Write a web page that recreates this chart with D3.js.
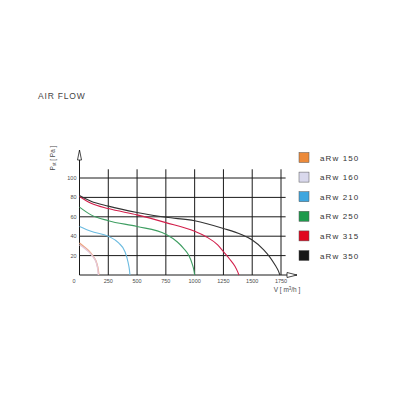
<!DOCTYPE html>
<html><head><meta charset="utf-8">
<script src="https://cdn.jsdelivr.net/npm/d3@7/dist/d3.min.js"></script>
<style>html,body{margin:0;padding:0;background:#fff;}svg{display:block;font-family:Arial,"Liberation Sans",sans-serif;}</style>
</head><body>
<svg id="c" width="400" height="400"></svg>
<script>
const title = "AIR FLOW";
const seriesNames = ["aRw 150","aRw 160","aRw 210","aRw 250","aRw 315","aRw 350"];
const swatchColors = ["#ec8a3a","#d9d8ec","#3ea6df","#1e9a4c","#e0061f","#151515"];
const lineColors = ["#eea27a","#e4c8d8","#6bbbe0","#3f9e62","#d21f4b","#333333"];
const xTicks = [0,250,500,750,1000,1250,1500,1750];
const yTicks = [0,20,40,60,80,100];
const s150 = [[0,33],[40,29],[80,25],[120,19],[150,12],[163,5],[168,0]];
const s160 = [[0,31],[40,28],[80,24],[120,18.5],[148,12],[160,5],[164,0]];
const s210 = [[0,50],[100,45],[250,40],[340,33],[395,24],[422,13],[434,5],[438,0]];
const s250 = [[0,70],[100,62],[250,56],[500,50],[750,42],[850,34],[900,28],[950,20],[980,11],[995,4],[1000,0]];
const s315 = [[0,81],[100,74],[250,68.5],[500,62],[750,54],[1000,45],[1100,39.5],[1200,31],[1250,24],[1300,17],[1350,9],[1375,3],[1385,0]];
const s350 = [[0,82],[100,76],[250,71],[500,64.5],[750,59.5],[1000,56],[1250,48],[1400,42],[1500,36],[1600,26],[1650,19],[1700,10],[1728,4],[1740,0]];
const series = [s150,s160,s210,s250,s315,s350];

const svg = d3.select("#c");
const x = d3.scaleLinear().domain([0,1750]).range([79.5,281]);
const y = d3.scaleLinear().domain([0,100]).range([275,178]);
const txt = "#4a4a4a";

svg.append("text").attr("x",38).attr("y",99).attr("font-size",8.5).attr("letter-spacing",0.8)
  .attr("fill","#444").text(title);

// grid
const g = svg.append("g");
g.selectAll(".h").data(yTicks.filter(d=>d>0)).join("line")
  .attr("x1",x(0)).attr("x2",x(1790)).attr("y1",d=>y(d)).attr("y2",d=>y(d))
  .attr("stroke","#1a1a1a").attr("stroke-width",1);
g.selectAll(".v").data(xTicks.filter(d=>d>0)).join("line")
  .attr("x1",d=>x(d)).attr("x2",d=>x(d)).attr("y1",y(0)).attr("y2",y(109))
  .attr("stroke","#1a1a1a").attr("stroke-width",1);

// axes
g.append("line").attr("x1",x(0)).attr("x2",x(0)).attr("y1",y(0)).attr("y2",150)
  .attr("stroke","#1a1a1a").attr("stroke-width",1);
g.append("path").attr("d",`M${x(0)-2},160 L${x(0)},150 L${x(0)+2},160 Z`)
  .attr("fill","#fff").attr("stroke","#1a1a1a").attr("stroke-width",0.8);
g.append("line").attr("x1",x(0)).attr("x2",297).attr("y1",y(0)).attr("y2",y(0))
  .attr("stroke","#1a1a1a").attr("stroke-width",1);
g.append("path").attr("d",`M287,${y(0)-2.5} L297,${y(0)} L287,${y(0)+2.5} Z`)
  .attr("fill","#fff").attr("stroke","#1a1a1a").attr("stroke-width",0.8);

// tick labels
svg.selectAll(".yt").data(yTicks.filter(d=>d>0)).join("text")
  .attr("x",76.5).attr("y",d=>y(d)+2).attr("text-anchor","end")
  .attr("font-size",5.5).attr("fill",txt).text(d=>d);
svg.selectAll(".xt").data(xTicks).join("text")
  .attr("x",d=>d===0?74:x(d)).attr("y",282.5).attr("text-anchor","middle")
  .attr("font-size",5.5).attr("fill",txt).text(d=>d);

// axis titles
const yl = svg.append("text").attr("transform","translate(54.5,158) rotate(-90)")
  .attr("text-anchor","middle").attr("font-size",6.5).attr("fill",txt);
yl.append("tspan").text("P");
yl.append("tspan").attr("font-size",4.5).attr("dy",1.5).text("st");
yl.append("tspan").attr("dy",-1.5).text(" [ Pa ]");
const xl = svg.append("text").attr("x",287).attr("y",291.5).attr("text-anchor","middle")
  .attr("font-size",6.5).attr("fill",txt);
xl.append("tspan").text("V [ m");
xl.append("tspan").attr("font-size",4.5).attr("dy",-2).text("3");
xl.append("tspan").attr("dy",2).text("/h ]");

// curves
const line = d3.line().x(d=>x(d[0])).y(d=>y(d[1])).curve(d3.curveMonotoneX);
svg.selectAll(".crv").data(series).join("path")
  .attr("d",line).attr("fill","none")
  .attr("stroke",(d,i)=>lineColors[i]).attr("stroke-width",(d,i)=>i<2?1.4:1.1);

// legend
const lg = svg.selectAll(".lg").data(seriesNames).join("g")
  .attr("transform",(d,i)=>`translate(299,${152.5+i*19.6})`);
lg.append("rect").attr("width",10).attr("height",10)
  .attr("fill",(d,i)=>swatchColors[i]).attr("stroke","#555").attr("stroke-width",0.5);
lg.append("text").attr("x",21).attr("y",8).attr("font-size",8).attr("letter-spacing",1.1)
  .attr("fill","#333").text(d=>d);
</script>
</body></html>
